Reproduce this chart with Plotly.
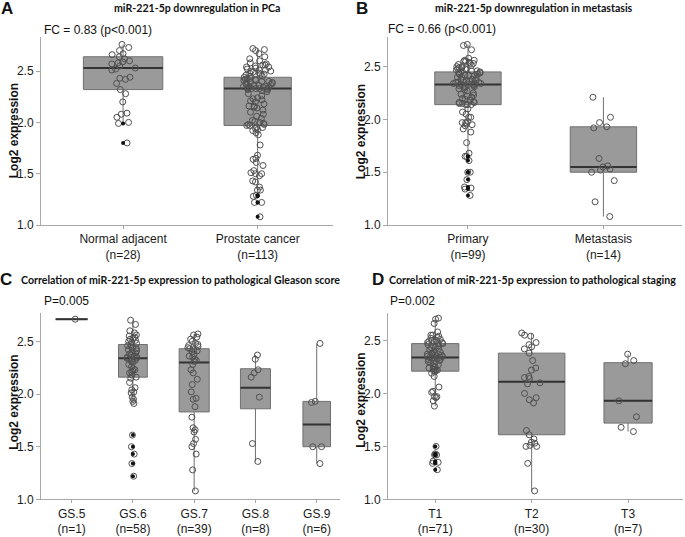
import plotly.graph_objects as go

# ---------------- DATA ----------------
# Panel A: miR-221-5p downregulation in PCa
a_categories = ["Normal adjacent", "Prostate cancer"]
a_normal = [2.76, 2.73, 2.70, 2.67, 2.66, 2.64, 2.62, 2.60, 2.59, 2.58, 2.57, 2.55, 2.53, 2.52,
            2.51, 2.44, 2.43, 2.42, 2.38, 2.32, 2.28, 2.20, 2.09, 2.08, 2.05, 2.00, 1.99, 1.80]
a_cancer = [2.72, 2.71, 2.70, 2.67, 2.64, 2.62, 2.60, 2.58, 2.57, 2.56, 2.56, 2.55, 2.54, 2.54,
            2.53, 2.52, 2.51, 2.51, 2.50, 2.50, 2.49, 2.48, 2.48, 2.47, 2.47, 2.46, 2.45, 2.45,
            2.44, 2.43, 2.43, 2.42, 2.42, 2.41, 2.41, 2.40, 2.40, 2.39, 2.39, 2.38, 2.38, 2.37,
            2.37, 2.36, 2.36, 2.35, 2.35, 2.35, 2.34, 2.34, 2.34, 2.33, 2.33, 2.33, 2.33, 2.32,
            2.33,
            2.32, 2.31, 2.30, 2.28, 2.26, 2.24, 2.23, 2.22, 2.21, 2.20, 2.18, 2.16, 2.16, 2.15,
            2.14, 2.12, 2.10, 2.08, 2.06, 2.04, 2.02, 2.01, 2.00, 1.99, 1.98, 1.98, 1.97, 1.97,
            1.95, 1.95, 1.94, 1.93, 1.92, 1.90, 1.88, 1.78, 1.68, 1.65, 1.64, 1.61, 1.58, 1.53,
            1.51, 1.50, 1.50, 1.48, 1.43, 1.42, 1.37, 1.34, 1.34, 1.29, 1.28, 1.22, 1.22, 1.08]
a_q1 = [2.32, 1.97]
a_median = [2.53, 2.33]
a_q3 = [2.64, 2.44]
a_lowerfence = [2.00, 1.34]
a_upperfence = [2.76, 2.72]

# Panel B: miR-221-5p downregulation in metastasis
b_categories = ["Primary", "Metastasis"]
b_primary = [2.71, 2.70, 2.66, 2.58, 2.56, 2.56, 2.55, 2.55, 2.54, 2.53, 2.53, 2.52, 2.51, 2.50,
             2.50, 2.49, 2.49, 2.48, 2.48, 2.47, 2.47, 2.46, 2.46, 2.46, 2.45,
             2.44, 2.44, 2.43, 2.43, 2.42, 2.42, 2.41, 2.40, 2.40, 2.39, 2.38, 2.38, 2.37, 2.37,
             2.36, 2.36, 2.35, 2.35, 2.35, 2.34, 2.34, 2.34, 2.33, 2.33, 2.33,
             2.32, 2.32, 2.31, 2.31, 2.30, 2.29, 2.28, 2.27, 2.25, 2.24, 2.23, 2.22, 2.21, 2.20,
             2.19, 2.18, 2.17, 2.16, 2.16, 2.15, 2.15, 2.14, 2.14, 2.14,
             2.10, 2.07, 2.05, 2.02, 2.02, 1.98, 1.97, 1.97, 1.96, 1.95, 1.94, 1.91, 1.88, 1.78,
             1.68, 1.65, 1.65, 1.61, 1.50, 1.50, 1.43, 1.36, 1.35, 1.34, 1.28]
b_metastasis = [2.21, 2.02, 1.97, 1.93, 1.92, 1.63, 1.56, 1.55, 1.53, 1.52, 1.50, 1.42, 1.22, 1.08]
b_q1 = [2.14, 1.50]
b_median = [2.33, 1.55]
b_q3 = [2.45, 1.93]
b_lowerfence = [1.68, 1.08]
b_upperfence = [2.71, 2.21]

# Panel C: Gleason score
c_categories = ["GS.5", "GS.6", "GS.7", "GS.8", "GS.9"]
c_gs5 = [2.71]
c_gs6 = [2.70, 2.66, 2.60, 2.58, 2.56, 2.55, 2.54, 2.53, 2.52, 2.51, 2.50, 2.49, 2.48, 2.47,
         2.46, 2.45, 2.44, 2.43, 2.42, 2.41, 2.40, 2.39, 2.38, 2.37, 2.36, 2.35, 2.35, 2.34, 2.34,
         2.33, 2.33, 2.32, 2.31, 2.30, 2.28, 2.26, 2.24, 2.23, 2.22, 2.21, 2.20, 2.18, 2.16,
         2.15, 2.11, 2.06, 2.04, 2.02, 2.01, 1.97, 1.95, 1.93, 1.91, 1.61, 1.50, 1.43, 1.34, 1.22]
c_gs7 = [2.57, 2.56, 2.54, 2.52, 2.50, 2.48, 2.47, 2.46, 2.45, 2.44,
         2.43, 2.42, 2.41, 2.40, 2.38, 2.36, 2.35, 2.33, 2.32, 2.31,
         2.28, 2.23, 2.20, 2.14, 2.09, 2.02, 1.96, 1.95, 1.88,
         1.78, 1.68, 1.66, 1.64, 1.57, 1.53, 1.50, 1.43, 1.28, 1.08]
c_gs8 = [2.37, 2.33, 2.23, 2.20, 2.16, 1.97, 1.53, 1.36]
c_gs9 = [2.48, 1.93, 1.92, 1.50, 1.50, 1.34]
c_q1 = [2.71, 2.16, 1.83, 1.86, 1.50]
c_median = [2.71, 2.34, 2.30, 2.06, 1.71]
c_q3 = [2.71, 2.47, 2.43, 2.24, 1.93]
c_lowerfence = [2.71, 1.91, 1.08, 1.36, 1.34]
c_upperfence = [2.71, 2.70, 2.57, 2.37, 2.48]

# Panel D: pathological staging
d_categories = ["T1", "T2", "T3"]
d_t1 = [2.71, 2.70, 2.66, 2.58, 2.55, 2.55, 2.54, 2.53, 2.52, 2.51, 2.50, 2.50, 2.49, 2.49,
        2.48, 2.48, 2.47, 2.47,
        2.46, 2.45, 2.44, 2.43, 2.42, 2.41, 2.40, 2.39, 2.38, 2.37, 2.37, 2.36, 2.36, 2.35,
        2.35, 2.34, 2.34, 2.34,
        2.33, 2.33, 2.32, 2.32, 2.31, 2.30, 2.29, 2.28, 2.27, 2.26, 2.25, 2.24, 2.23, 2.22,
        2.22, 2.21, 2.21,
        2.19, 2.16, 2.06, 2.02, 2.01, 1.97, 1.97, 1.96, 1.93, 1.88, 1.50, 1.43, 1.42, 1.42,
        1.36, 1.35, 1.34, 1.28]
d_t2 = [2.57, 2.55, 2.54, 2.48, 2.46, 2.44, 2.42, 2.38, 2.31, 2.24, 2.22, 2.16, 2.15, 2.14,
        2.10, 2.09, 2.00, 1.96, 1.94, 1.91, 1.65, 1.61, 1.57, 1.54, 1.53, 1.51, 1.50, 1.50,
        1.34, 1.08]
d_t3 = [2.37, 2.31, 2.28, 1.93, 1.78, 1.68, 1.64]
d_q1 = [2.21, 1.61, 1.72]
d_median = [2.34, 2.11, 1.93]
d_q3 = [2.47, 2.38, 2.29]
d_lowerfence = [1.88, 1.08, 1.64]
d_upperfence = [2.71, 2.57, 2.37]

# ---------------- DRAWING ----------------
W, H = 685, 537
FONT = "Liberation Sans, Arial, sans-serif"
TITLE_FONT = "Lato, Open Sans, sans-serif"


def px(x):
    return x / W


def py(y):
    return 1 - y / H


fig = go.Figure()


def add_panel(idx, categories, groups, q1, med, q3, lf, uf, widths):
    sfx = "" if idx == 1 else str(idx)
    xa, ya = "x" + sfx, "y" + sfx
    for i, cat in enumerate(categories):
        w = widths[i]
        vals = groups[i]
        # main box
        fig.add_trace(go.Box(
            x=[cat], q1=[q1[i]], median=[med[i]], q3=[q3[i]],
            lowerfence=[lf[i]], upperfence=[uf[i]],
            width=w, fillcolor="#9a9a9a", line=dict(color="#707070", width=1),
            whiskerwidth=0, boxpoints=False, xaxis=xa, yaxis=ya,
            showlegend=False, hoverinfo="skip"))
        # darker median line
        fig.add_trace(go.Box(
            x=[cat], q1=[med[i]], median=[med[i]], q3=[med[i]],
            lowerfence=[med[i]], upperfence=[med[i]],
            width=w, fillcolor="rgba(0,0,0,0)", line=dict(color="#333333", width=2),
            whiskerwidth=0, boxpoints=False, xaxis=xa, yaxis=ya,
            showlegend=False, hoverinfo="skip"))
        # outliers (black dots at the box centre)
        outl = [v for v in vals if v < lf[i] - 1e-9 or v > uf[i] + 1e-9]
        if outl:
            fig.add_trace(go.Scatter(
                x=[cat] * len(outl), y=outl, mode="markers",
                marker=dict(color="#111111", size=4), xaxis=xa, yaxis=ya,
                showlegend=False, hoverinfo="skip"))
        # jittered open points
        jit = 0.45 * min(1.0, 0.5 / w)
        fig.add_trace(go.Box(
            x=[cat] * len(vals), y=vals, boxpoints="all", jitter=jit, pointpos=0,
            width=w, fillcolor="rgba(0,0,0,0)",
            line=dict(color="rgba(0,0,0,0)", width=0),
            marker=dict(symbol="circle-open", size=6, color="#505050",
                        line=dict(width=1, color="#505050")),
            xaxis=xa, yaxis=ya, showlegend=False, hoveron="points"))


add_panel(1, a_categories, [a_normal, a_cancer], a_q1, a_median, a_q3, a_lowerfence,
          a_upperfence, [0.59, 0.5])
add_panel(2, b_categories, [b_primary, b_metastasis], b_q1, b_median, b_q3, b_lowerfence,
          b_upperfence, [0.49, 0.49])
add_panel(3, c_categories, [c_gs5, c_gs6, c_gs7, c_gs8, c_gs9], c_q1, c_median, c_q3,
          c_lowerfence, c_upperfence, [0.52, 0.47, 0.49, 0.49, 0.45])
add_panel(4, d_categories, [d_t1, d_t2, d_t3], d_q1, d_median, d_q3, d_lowerfence,
          d_upperfence, [0.49, 0.69, 0.5])

axis_common = dict(showgrid=False, zeroline=False, showline=True, linecolor="#a8a8a8",
                   linewidth=1, ticks="outside", ticklen=4, tickcolor="#a8a8a8",
                   tickfont=dict(family=FONT, size=12, color="#1a1a1a"))


def xaxis(cats, groups, domain, rng, anchor):
    return dict(axis_common, type="category", domain=domain, range=rng, anchor=anchor,
                categoryorder="array", categoryarray=cats, tickvals=cats, ticklen=3,
                ticktext=[f"{c}<br>(n={len(g)})" for c, g in zip(cats, groups)])


def yaxis(domain, rng, anchor):
    return dict(axis_common, domain=domain, range=rng, anchor=anchor,
                tickvals=[1.0, 1.5, 2.0, 2.5], tickformat=".1f")


fig.update_layout(
    width=W, height=H, autosize=False,
    margin=dict(l=0, r=0, t=0, b=0),
    paper_bgcolor="white", plot_bgcolor="white",
    boxmode="overlay",
    xaxis=xaxis(a_categories, [a_normal, a_cancer], [px(41), px(333)], [-0.61, 1.56], "y"),
    yaxis=yaxis([py(228), py(37)], [1.0, 2.837], "x"),
    xaxis2=xaxis(b_categories, [b_primary, b_metastasis], [px(388), px(682)], [-0.59, 1.58], "y2"),
    yaxis2=yaxis([py(228), py(37)], [1.0, 2.785], "x2"),
    xaxis3=xaxis(c_categories, [c_gs5, c_gs6, c_gs7, c_gs8, c_gs9], [px(41), px(340)],
                 [-0.5, 4.38], "y3"),
    yaxis3=yaxis([py(506), py(317)], [1.0, 2.77], "x3"),
    xaxis4=xaxis(d_categories, [d_t1, d_t2, d_t3], [px(388), px(683)], [-0.49, 2.57], "y4"),
    yaxis4=yaxis([py(506), py(317)], [1.0, 2.76], "x4"),
)

ann = []
# panel letters
for letter, x, y in [("A", 7, 9), ("B", 362, 9), ("C", 6, 283), ("D", 378, 283)]:
    ann.append(dict(text=f"<b>{letter}</b>", x=px(x), y=py(y), xref="paper", yref="paper",
                    showarrow=False, xanchor="center", yanchor="middle",
                    font=dict(family=FONT, size=17, color="#111")))
# panel titles
for t, x, y in [("miR-221-5p downregulation in PCa", 197, 8),
                ("miR-221-5p downregulation in metastasis", 534, 8),
                ("Correlation of miR-221-5p expression to pathological Gleason score", 180, 284),
                ("Correlation of miR-221-5p expression to pathological staging", 532, 284)]:
    ann.append(dict(text=f"<b>{t}</b>", x=px(x), y=py(y), xref="paper", yref="paper",
                    showarrow=False, xanchor="center", yanchor="middle",
                    font=dict(family=TITLE_FONT, size=10.6, color="#111")))
# statistics notes
for t, x, y in [("FC = 0.83 (p<0.001)", 42, 30), ("FC = 0.66 (p<0.001)", 386, 29),
                ("P=0.005", 42, 305), ("P=0.002", 388, 305)]:
    ann.append(dict(text=t, x=px(x), y=py(y), xref="paper", yref="paper",
                    showarrow=False, xanchor="left", yanchor="middle",
                    font=dict(family=FONT, size=12, color="#111")))
# y-axis titles
for x, y in [(14, 133), (361, 133), (14, 408), (361, 405)]:
    ann.append(dict(text="<b>Log2 expression</b>", x=px(x), y=py(y), xref="paper",
                    yref="paper", showarrow=False, textangle=-90, xanchor="center",
                    yanchor="middle", font=dict(family=FONT, size=12, color="#111")))
fig.update_layout(annotations=ann)

fig.write_html("out.html", config={"displayModeBar": False},
               post_script="document.body.style.margin='0';")
